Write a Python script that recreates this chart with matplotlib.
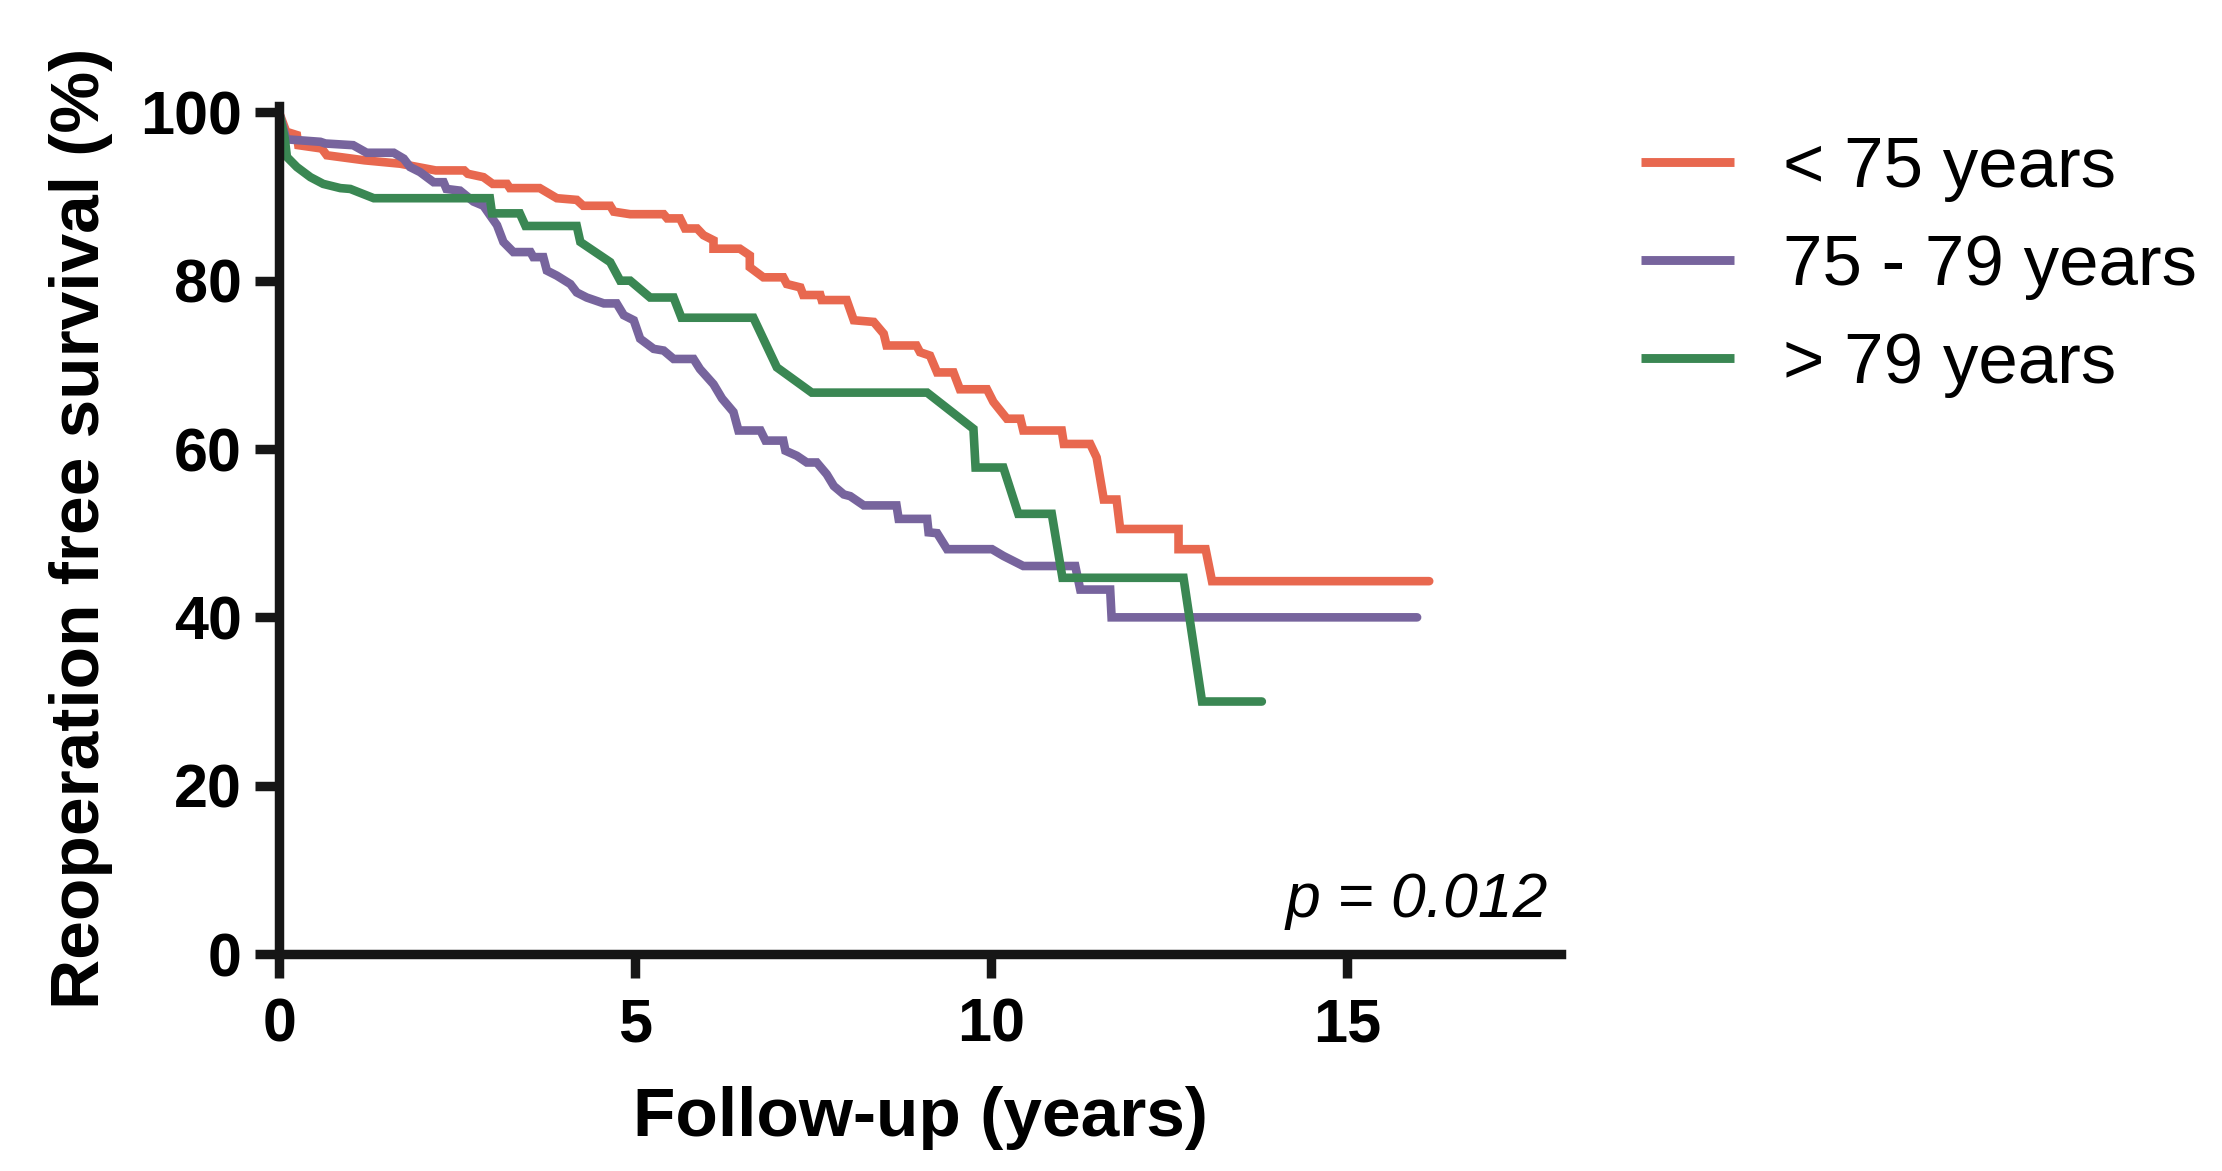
import matplotlib
matplotlib.use('Agg')
import matplotlib.pyplot as plt

plt.rcParams['font.family'] = ['Liberation Sans', 'DejaVu Sans']

# Kaplan-Meier style curves (years, % free of reoperation)
young_t = [0, 0.1, 0.25, 0.27, 0.6, 0.67, 1.2, 1.7, 2.2, 2.6, 2.65, 2.87, 3.0, 3.2, 3.24,
           3.66, 3.9, 4.18, 4.27, 4.65, 4.7, 4.93, 5.4, 5.45, 5.63, 5.7, 5.87, 5.96, 6.1,
           6.1, 6.47, 6.61, 6.61, 6.8, 7.08, 7.13, 7.32, 7.36, 7.6, 7.62, 7.97, 8.07, 8.35,
           8.49, 8.53, 8.95, 9.0, 9.14, 9.24, 9.47, 9.56, 9.94, 10.03, 10.22, 10.41, 10.45,
           10.99, 11.02, 11.39, 11.48, 11.58, 11.76, 11.81, 12.63, 12.63, 13.01, 13.1, 16.15]
young_s = [100, 97.7, 97.3, 96.1, 95.7, 94.9, 94.3, 93.9, 93.1, 93.1, 92.7, 92.3, 91.5, 91.5, 91.0,
           91.0, 89.8, 89.6, 88.9, 88.9, 88.2, 87.9, 87.9, 87.4, 87.4, 86.2, 86.2, 85.4, 84.8,
           83.8, 83.8, 83.0, 81.6, 80.4, 80.4, 79.6, 79.2, 78.3, 78.3, 77.7, 77.7, 75.3, 75.1,
           73.7, 72.3, 72.3, 71.5, 71.1, 69.1, 69.1, 67.1, 67.1, 65.6, 63.6, 63.6, 62.2,
           62.2, 60.6, 60.6, 59.0, 54.0, 54.0, 50.5, 50.5, 48.1, 48.1, 44.3, 44.3]

mid_t = [0, 0.1, 0.58, 0.65, 1.04, 1.23, 1.61, 1.75, 1.84, 1.98, 2.17, 2.31, 2.35, 2.54, 2.73,
         2.87, 2.96, 3.06, 3.15, 3.29, 3.53, 3.57, 3.71, 3.76, 3.9, 4.09, 4.18, 4.32, 4.56,
         4.74, 4.84, 4.98, 5.07, 5.26, 5.4, 5.54, 5.82, 5.91, 6.1, 6.22, 6.38, 6.45, 6.76,
         6.83, 7.08, 7.11, 7.27, 7.41, 7.55, 7.69, 7.79, 7.93, 8.02, 8.21, 8.67, 8.7, 9.1,
         9.12, 9.24, 9.38, 10.01, 10.17, 10.45, 11.18, 11.25, 11.67, 11.69, 15.98]
mid_s = [100, 96.8, 96.5, 96.3, 96.1, 95.2, 95.2, 94.5, 93.5, 92.9, 91.7, 91.7, 90.9, 90.7, 89.4,
         88.9, 87.8, 86.6, 84.6, 83.4, 83.4, 82.8, 82.8, 81.2, 80.6, 79.6, 78.6, 78.0, 77.3,
         77.3, 75.9, 75.3, 73.1, 71.9, 71.7, 70.7, 70.7, 69.5, 67.7, 66.0, 64.4, 62.2, 62.2,
         61.0, 61.0, 59.8, 59.2, 58.4, 58.4, 57.0, 55.6, 54.6, 54.4, 53.3, 53.3, 51.7, 51.7,
         50.1, 50.0, 48.1, 48.1, 47.3, 46.1, 46.1, 43.3, 43.3, 40.0, 40.0]

old_t = [0, 0.08, 0.11, 0.25, 0.44, 0.62, 0.86, 1.0, 1.33, 2.96, 2.99, 3.38, 3.46, 4.18, 4.23,
         4.65, 4.79, 4.93, 5.21, 5.54, 5.65, 6.66, 6.99, 7.48, 9.1, 9.75, 9.78, 10.17, 10.38,
         10.85, 11.0, 12.7, 12.96, 13.8]
old_s = [100, 96.9, 94.7, 93.5, 92.3, 91.5, 91.0, 90.9, 89.8, 89.8, 88.0, 88.0, 86.5, 86.5, 84.6,
         82.2, 80.0, 80.0, 78.0, 78.0, 75.6, 75.6, 69.7, 66.7, 66.7, 62.4, 57.8, 57.8, 52.3,
         52.3, 44.7, 44.7, 30.0, 30.0]

labels = ['< 75 years', '75 - 79 years', '> 79 years']
colors = ['#E8684F', '#77649D', '#3A8753']
x_ticks = [0, 5, 10, 15]
y_ticks = [0, 20, 40, 60, 80, 100]
p_text = 'p = 0.012'

fig = plt.figure(figsize=(22.22, 11.71), dpi=100)
ax = fig.add_axes([0.1256, 0.1853, 0.5769, 0.7245])

for t, s, lab, c in zip([young_t, mid_t, old_t], [young_s, mid_s, old_s], labels, colors):
    ax.plot(t, s, color=c, lw=6.2, label=lab, solid_capstyle='round', solid_joinstyle='miter')

ax.set_xlim(0, 18)
ax.set_ylim(0, 100.8)
ax.set_xticks(x_ticks)
ax.set_yticks(y_ticks)

for side in ['top', 'right']:
    ax.spines[side].set_visible(False)
for side in ['left', 'bottom']:
    ax.spines[side].set_linewidth(6.8)
    ax.spines[side].set_color('#161616')

ax.tick_params(direction='out', length=17, width=6.8, color='#161616', labelsize=44, pad=10)
for lbl in ax.get_xticklabels() + ax.get_yticklabels():
    lbl.set_fontweight('bold')
ax.tick_params(axis='x', pad=14)

ax.set_xlabel('Follow-up (years)', fontsize=50, fontweight='bold')
ax.set_ylabel('Reoperation free survival (%)', fontsize=50, fontweight='bold')
ax.xaxis.set_label_coords(0.5, -0.193)
ax.xaxis.label.set_va('center')
ax.yaxis.set_label_coords(-0.1545, 0.502)
ax.yaxis.label.set_va('center')

ax.text(17.82, 6.3, p_text, fontsize=45, style='italic', ha='right', va='center')

leg = ax.legend(loc='upper left', bbox_to_anchor=(0.7385, 0.884), bbox_transform=fig.transFigure,
                frameon=False, fontsize=51, handlelength=1.32, handletextpad=0.68,
                labelspacing=0.45, borderpad=0, borderaxespad=0)
for line in leg.get_lines():
    line.set_linewidth(6.4)
    line.set_solid_capstyle('butt')

fig.savefig('out.png', dpi=100)
